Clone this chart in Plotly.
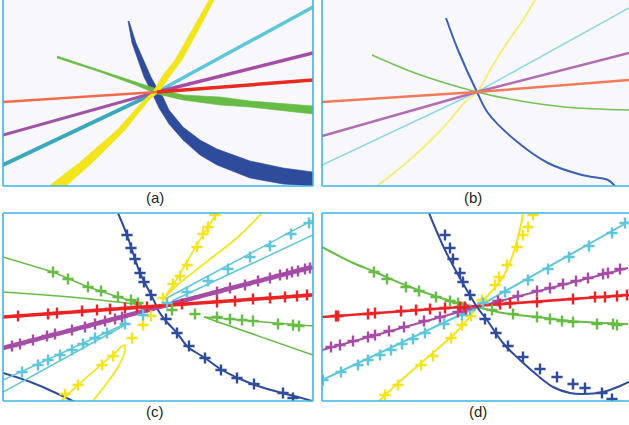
import plotly.graph_objects as go
from plotly.subplots import make_subplots

W, H = 629, 425

# ---------------- panel (a): thick bands (edge outlines) and lines ----------------
a_blue_x = [126, 133, 148, 154, 160, 166, 180, 197, 214, 247, 280, 310,
            310, 280, 247, 214, 197, 180, 166, 156, 149, 141, 129, 125]
a_blue_y = [21, 43, 77, 88, 97, 110, 127, 140, 149, 161, 168, 172,
            186, 184, 178, 165, 155, 140, 124, 108, 93, 77, 43, 21]
a_green_x = [54, 97, 130, 154, 180, 217, 247, 310, 310, 247, 217, 180, 154, 130, 97, 54]
a_green_y = [56, 70, 81, 89, 95, 97, 101, 106, 114, 107, 105, 100, 94, 84, 72, 58]
a_yellow_x = [46, 76, 114, 141, 150, 160, 172, 191, 206, 211, 197, 179, 167, 156, 146, 122, 89, 63]
a_yellow_y = [186, 163, 130, 100, 92, 75, 60, 27, 0, 0, 27, 60, 76, 92, 100, 130, 163, 186]
a_red_x, a_red_y = [0, 154, 310], [102, 92, 80]
a_purple_x, a_purple_y = [0, 154, 310], [135, 92, 53]
a_cyan_x, a_cyan_y = [0, 154, 310], [165, 92, 7]

# ---------------- panel (b): thin lines ----------------
b_red_x, b_red_y = [0, 155, 307], [102, 92, 80]
b_purple_x, b_purple_y = [0, 155, 307], [136, 92, 53]
b_cyan_x, b_cyan_y = [0, 155, 307], [165, 92, 8]
b_yellow_x = [55, 84, 119, 145, 155, 171, 187, 201, 213]
b_yellow_y = [186, 163, 130, 100, 92, 65, 40, 20, 0]
b_blue_x = [124, 136, 155, 166, 193, 226, 260, 286, 293]
b_blue_y = [18, 50, 92, 113, 140, 163, 175, 180, 186]
b_green_x = [50, 93, 155, 193, 243, 307]
b_green_y = [55, 73, 92, 100, 107, 110]

# ---------------- panel (c) ----------------
c_blue_x = [115, 124, 130, 137, 144, 152, 155, 162, 174, 185, 202, 219, 235, 252, 279, 295, 309]
c_blue_y = [0, 22, 40, 60, 74, 90, 97, 107, 120, 134, 145, 157, 165, 172, 180, 184, 188]
c_blue_mx = [124, 128, 132, 137, 141, 148, 163, 174, 186, 202, 218, 234, 251, 280, 290]
c_blue_my = [22, 35, 46, 60, 69, 82, 106, 120, 133, 145, 157, 165, 171, 180, 185]
c_blue2_x, c_blue2_y = [0, 30, 72], [160, 170, 189]
c_red_x, c_red_y = [0, 309], [104, 82]
c_red_mx = [15, 45, 54, 79, 94, 107, 122, 134, 144, 179, 214, 232, 250, 267, 282, 294, 304]
c_red_my = [103, 101, 100, 98, 97, 96, 95, 94, 94, 91, 89, 88, 86, 85, 84, 83, 82]
c_purple_x, c_purple_y = [0, 309], [135, 54]
c_purple_mx = [9, 17, 30, 44, 52, 69, 82, 92, 102, 112, 119, 214, 227, 242, 255, 267, 277, 284, 289, 295, 302, 307]
c_purple_my = [133, 131, 127, 123, 121, 117, 114, 111, 108, 106, 104, 79, 75, 72, 68, 65, 62, 61, 59, 58, 56, 55]
c_cyan1_x, c_cyan1_y = [0, 124], [167, 110]
c_cyan2_x, c_cyan2_y = [0, 122], [179, 112]
c_cyan3_x, c_cyan3_y = [162, 310], [86, 7]
c_cyan4_x, c_cyan4_y = [169, 310], [88, 22]
c_cyan_mx = [19, 35, 45, 57, 69, 80, 92, 104, 122, 140, 164, 184, 205, 225, 247, 267, 288, 306]
c_cyan_my = [159, 152, 147, 142, 137, 131, 125, 120, 111, 102, 90, 79, 68, 56, 44, 33, 21, 10]
c_yel1_x = [214, 205, 195, 185, 172, 162, 172, 202, 235, 259]
c_yel1_y = [0, 14, 30, 47, 69, 84, 74, 50, 24, 0]
c_yel2_x = [57, 75, 99, 112, 121, 122, 115, 104, 89]
c_yel2_y = [189, 172, 151, 140, 132, 137, 154, 170, 189]
c_yel_mx = [160, 170, 177, 184, 194, 200, 205, 212, 62, 75, 99, 110, 129, 140, 148]
c_yel_my = [85, 71, 63, 52, 34, 21, 14, 2, 181, 172, 152, 143, 125, 112, 103]
c_grn1_x, c_grn1_y = [0, 50, 85, 115, 139], [44, 59, 74, 84, 91]
c_grn2_x, c_grn2_y = [0, 67, 114, 139], [79, 84, 89, 92]
c_grn3_x, c_grn3_y = [310, 201, 310], [113, 104, 142]
c_grn_mx = [50, 65, 85, 98, 115, 128, 135, 169, 192, 214, 227, 239, 250, 275, 290, 296]
c_grn_my = [59, 66, 74, 78, 84, 87, 90, 97, 101, 104, 106, 107, 108, 111, 112, 113]

# ---------------- panel (d) ----------------
d_red_x, d_red_y = [0, 306], [104, 82]
d_red_mx = [14, 16, 46, 53, 79, 94, 108, 123, 138, 143, 178, 188, 215, 251, 273, 283, 295, 305]
d_red_my = [103, 103, 101, 100, 98, 97, 96, 95, 94, 94, 91, 90, 89, 86, 84, 84, 83, 82]
d_purple_x, d_purple_y = [0, 155, 306], [137, 94, 55]
d_purple_mx = [9, 18, 31, 46, 53, 67, 82, 102, 118, 136, 144, 176, 196, 215, 228, 241, 254, 266, 281, 286, 298]
d_purple_my = [134, 132, 128, 124, 122, 118, 114, 108, 104, 99, 96, 88, 83, 78, 75, 71, 68, 65, 61, 60, 56]
d_cyan_x, d_cyan_y = [0, 155, 306], [167, 94, 9]
d_cyan_mx = [1, 19, 36, 46, 58, 69, 80, 91, 103, 122, 140, 148, 161, 183, 206, 226, 247, 267, 290, 303]
d_cyan_my = [167, 159, 152, 147, 142, 137, 131, 126, 120, 111, 102, 97, 90, 79, 67, 56, 44, 33, 20, 10]
d_yel_x = [56, 76, 99, 129, 141, 149, 155, 168, 181, 190, 196, 200, 201]
d_yel_y = [189, 170, 150, 124, 112, 102, 94, 80, 64, 44, 24, 7, 0]
d_yel_mx = [63, 76, 99, 111, 129, 140, 149, 160, 173, 177, 185, 195, 201, 206, 211]
d_yel_my = [182, 172, 152, 143, 125, 112, 103, 87, 72, 64, 52, 34, 22, 14, 2]
d_grn_x = [0, 29, 53, 83, 113, 136, 155, 181, 215, 248, 281, 306]
d_grn_y = [34, 49, 59, 72, 83, 90, 94, 100, 104, 108, 110, 111]
d_grn_mx = [52, 65, 84, 97, 114, 128, 136, 170, 191, 215, 228, 240, 251, 275, 291, 295]
d_grn_my = [59, 66, 74, 78, 84, 88, 90, 97, 101, 104, 106, 108, 109, 111, 111, 112]
d_blue_x = [107, 123, 139, 155, 165, 181, 198, 215, 231, 248, 261, 281, 298, 307]
d_blue_y = [0, 37, 67, 94, 107, 130, 147, 162, 174, 180, 181, 179, 173, 169]
d_blue_mx = [123, 128, 131, 138, 141, 148, 163, 174, 186, 201, 218, 235, 251, 263, 280, 290]
d_blue_my = [22, 35, 46, 60, 69, 82, 106, 120, 133, 144, 156, 164, 171, 175, 180, 186]

captions = ["(a)", "(b)", "(c)", "(d)"]

# colours
BLUE = "#2f4b9c"
RED = "#ec2324"
PURPLE = "#a64ca6"
CYAN = "#5ec6da"
YELLOW = "#f4e41c"
GREEN = "#67bc45"
FRAME = "#3db4e6"

fig = make_subplots(rows=2, cols=2)


def line(x, y, color, width, r, c, shape="linear"):
    fig.add_trace(go.Scatter(x=x, y=y, mode="lines", line=dict(color=color, width=width, shape=shape),
                             hoverinfo="skip", showlegend=False), row=r, col=c)


def band(x, y, color, r, c):
    fig.add_trace(go.Scatter(x=x, y=y, mode="lines", fill="toself", fillcolor=color,
                             line=dict(color=color, width=0.6),
                             hoverinfo="skip", showlegend=False), row=r, col=c)


def marks(x, y, color, r, c):
    fig.add_trace(go.Scatter(x=x, y=y, mode="markers",
                             marker=dict(symbol="cross-thin", size=8, line=dict(color=color, width=2.4)),
                             hoverinfo="skip", showlegend=False), row=r, col=c)


# (a)
band(a_blue_x, a_blue_y, BLUE, 1, 1)
band(a_green_x, a_green_y, GREEN, 1, 1)
line(a_cyan_x[:2], a_cyan_y[:2], "#3aa9bb", 4, 1, 1)
line(a_cyan_x[1:], a_cyan_y[1:], CYAN, 3.5, 1, 1)
line(a_purple_x[:2], a_purple_y[:2], "#a055a4", 3, 1, 1)
line(a_purple_x[1:], a_purple_y[1:], PURPLE, 3.5, 1, 1)
band(a_yellow_x, a_yellow_y, YELLOW, 1, 1)
line(a_red_x[:2], a_red_y[:2], "#f26a4a", 2.5, 1, 1)
line(a_red_x[1:], a_red_y[1:], "#e82a20", 3.5, 1, 1)

# (b)
line(b_blue_x, b_blue_y, "#3a62b4", 2, 1, 2, "spline")
line(b_green_x, b_green_y, "#72c257", 1.5, 1, 2, "spline")
line(b_yellow_x, b_yellow_y, "#f6ee78", 2, 1, 2, "spline")
line(b_cyan_x, b_cyan_y, "#8cd6e6", 1.5, 1, 2)
line(b_purple_x, b_purple_y, "#b26cb4", 2.5, 1, 2)
line(b_red_x, b_red_y, "#f27a5a", 2.5, 1, 2)

# (c)
line(c_blue_x, c_blue_y, BLUE, 2, 2, 1, "spline")
line(c_blue2_x, c_blue2_y, BLUE, 2, 2, 1, "spline")
line(c_grn1_x, c_grn1_y, GREEN, 1.5, 2, 1)
line(c_grn2_x, c_grn2_y, GREEN, 1.5, 2, 1, "spline")
line(c_grn3_x, c_grn3_y, GREEN, 1.5, 2, 1)
line(c_yel1_x, c_yel1_y, YELLOW, 1.8, 2, 1, "spline")
line(c_yel2_x, c_yel2_y, YELLOW, 1.8, 2, 1, "spline")
for xs, ys in [(c_cyan1_x, c_cyan1_y), (c_cyan2_x, c_cyan2_y), (c_cyan3_x, c_cyan3_y), (c_cyan4_x, c_cyan4_y)]:
    line(xs, ys, CYAN, 1.5, 2, 1)
line(c_purple_x, c_purple_y, PURPLE, 4.5, 2, 1)
line(c_red_x, c_red_y, RED, 3.5, 2, 1)
marks(c_grn_mx, c_grn_my, GREEN, 2, 1)
marks(c_yel_mx, c_yel_my, YELLOW, 2, 1)
marks(c_cyan_mx, c_cyan_my, CYAN, 2, 1)
marks(c_purple_mx, c_purple_my, PURPLE, 2, 1)
marks(c_red_mx, c_red_my, RED, 2, 1)
marks(c_blue_mx, c_blue_my, BLUE, 2, 1)

# (d)
line(d_grn_x, d_grn_y, GREEN, 2, 2, 2, "spline")
line(d_yel_x, d_yel_y, YELLOW, 2, 2, 2, "spline")
line(d_cyan_x, d_cyan_y, CYAN, 2, 2, 2)
line(d_purple_x, d_purple_y, PURPLE, 2, 2, 2)
line(d_red_x, d_red_y, RED, 2.5, 2, 2)
line(d_blue_x, d_blue_y, BLUE, 2, 2, 2, "spline")
marks(d_grn_mx, d_grn_my, GREEN, 2, 2)
marks(d_yel_mx, d_yel_my, YELLOW, 2, 2)
marks(d_cyan_mx, d_cyan_my, CYAN, 2, 2)
marks(d_purple_mx, d_purple_my, PURPLE, 2, 2)
marks(d_red_mx, d_red_my, RED, 2, 2)
marks(d_blue_mx, d_blue_my, BLUE, 2, 2)

# panel placement (pixels)
panels = {
    (1, 1): (3, 313, 0, 186, 310, 186),
    (1, 2): (322, 629, 0, 186, 307, 186),
    (2, 1): (3, 313, 213, 401, 310, 188),
    (2, 2): (322, 629, 213, 401, 307, 188),
}
ax_i = {(1, 1): "", (1, 2): "2", (2, 1): "3", (2, 2): "4"}
for key, (x0, x1, y0, y1, xr, yr) in panels.items():
    i = ax_i[key]
    fig.layout["xaxis" + i].update(domain=[x0 / W, x1 / W], range=[0, xr], visible=False, fixedrange=True)
    fig.layout["yaxis" + i].update(domain=[1 - y1 / H, 1 - y0 / H], range=[yr, 0], visible=False, fixedrange=True)

shapes = []
# light backgrounds of (a),(b)
for x0, x1 in [(3, 313), (322, 632)]:
    shapes.append(dict(type="rect", xref="paper", yref="paper", x0=x0 / W, x1=x1 / W, y0=1 - 186 / H, y1=1,
                       fillcolor="#f8f8fc", line=dict(width=0), layer="below"))


def seg(xa, ya, xb, yb):
    shapes.append(dict(type="line", xref="paper", yref="paper", x0=xa / W, y0=1 - ya / H, x1=xb / W, y1=1 - yb / H,
                       line=dict(color=FRAME, width=1.6)))


seg(3, -2, 3, 186); seg(3, 186, 313, 186); seg(313, -2, 313, 186)
seg(322, -2, 322, 186); seg(322, 186, 632, 186)
seg(3, 213, 313, 213); seg(3, 401, 313, 401); seg(3, 213, 3, 401); seg(313, 213, 313, 401)
seg(322, 213, 632, 213); seg(322, 401, 632, 401); seg(322, 213, 322, 401)

annotations = []
for text, (cx, cy) in zip(captions, [(155, 197), (473, 197), (155, 411), (478, 411)]):
    annotations.append(dict(text=text, xref="paper", yref="paper", x=cx / W, y=1 - cy / H,
                            showarrow=False, xanchor="center", yanchor="middle",
                            font=dict(family="Liberation Sans, Arial", size=15, color="#231f20")))

fig.update_layout(width=W, height=H, margin=dict(l=0, r=0, t=0, b=0),
                  paper_bgcolor="white", plot_bgcolor="rgba(0,0,0,0)",
                  shapes=shapes, annotations=annotations, showlegend=False)

fig.write_html("out.html", config={"displayModeBar": False, "staticPlot": True},
               post_script="document.body.style.margin='0';document.body.style.padding='0';"
                           "document.body.style.overflow='hidden';")
